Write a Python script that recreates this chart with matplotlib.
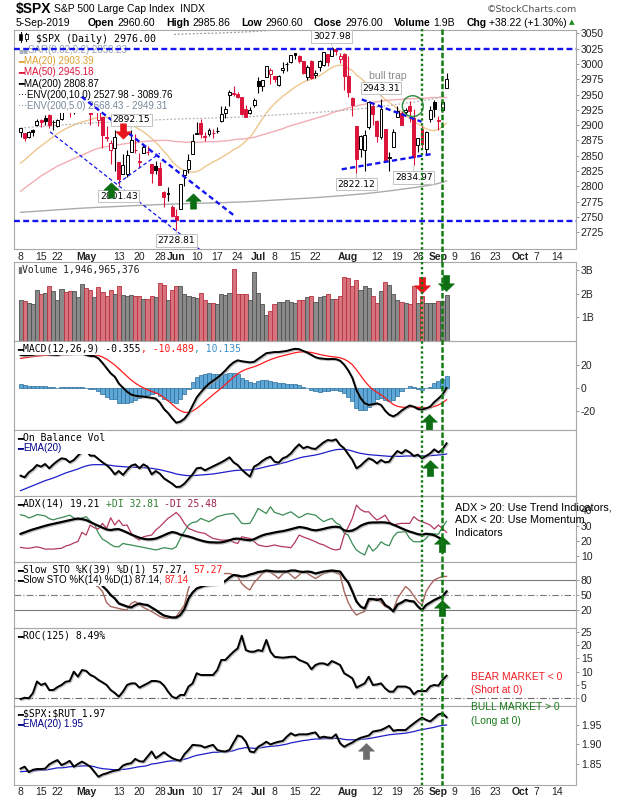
import numpy as np
import pandas as pd
import matplotlib
matplotlib.use("Agg")
import matplotlib.pyplot as plt
from matplotlib.path import Path
from matplotlib.patches import Ellipse, Rectangle
from matplotlib.lines import Line2D
from matplotlib.offsetbox import TextArea, HPacker, VPacker, AnchoredOffsetbox, DrawingArea
import matplotlib.patheffects as pe

plt.rcParams['font.family'] = ['DejaVu Sans']

# ---------------- DATA (daily, 8-Apr-2019 .. 5-Sep-2019) ----------------
holidays = ['2019-04-19', '2019-05-27', '2019-07-04', '2019-09-02']
first_day, calendar_end = '2019-04-08', '2019-10-18'
prev_close = 2892.74

open_ = [2888.46, 2886.58, 2881.37, 2891.92, 2900.86,
         2908.32, 2912.26, 2916.04, 2904.81,
         2898.78, 2909.99, 2934.00, 2928.99, 2925.81,
         2940.58, 2937.14, 2952.33, 2922.16, 2929.21,
         2908.89, 2913.03, 2879.61, 2859.84, 2863.10,
         2840.19, 2820.12, 2820.38, 2855.80, 2858.60,
         2841.94, 2854.02, 2856.06, 2836.70, 2832.41,
         2830.03, 2790.25, 2786.94, 2766.15,
         2751.53, 2762.64, 2818.09, 2828.51, 2852.87,
         2885.83, 2903.27, 2882.73, 2886.24, 2886.82,
         2889.75, 2906.71, 2920.55, 2949.60, 2952.71,
         2951.42, 2945.78, 2926.07, 2919.66, 2932.94,
         2971.41, 2964.66, 2978.08, 2984.25,
         2979.77, 2965.52, 2989.30, 2999.62, 3003.36,
         3017.80, 3012.13, 3005.10, 2978.87, 3004.26,
         2981.93, 2994.74, 2998.77, 3016.26, 3013.25,
         3024.47, 3007.66, 3016.22, 2980.32, 2943.90,
         2898.07, 2861.18, 2858.65, 2896.21, 2930.51,
         2907.07, 2880.72, 2894.15, 2846.20, 2864.74,
         2913.48, 2919.01, 2922.04, 2930.94, 2911.07,
         2866.70, 2893.14, 2861.28, 2910.37, 2937.09,
         2909.01, 2924.67, 2960.60]
high = [2895.95, 2886.88, 2889.71, 2893.42, 2910.54,
        2909.60, 2916.06, 2918.00, 2908.40,
        2909.51, 2936.31, 2936.83, 2933.10, 2939.88,
        2949.52, 2948.22, 2954.13, 2931.68, 2947.85,
        2937.32, 2913.03, 2897.96, 2875.97, 2891.31,
        2840.19, 2852.54, 2858.68, 2892.15, 2885.48,
        2853.86, 2868.88, 2865.47, 2836.70, 2841.36,
        2840.51, 2792.03, 2799.00, 2768.98,
        2763.07, 2804.49, 2827.28, 2852.10, 2884.97,
        2904.77, 2910.61, 2888.57, 2895.24, 2894.45,
        2897.27, 2930.79, 2931.74, 2958.06, 2964.15,
        2954.92, 2946.52, 2932.59, 2929.30, 2943.98,
        2977.93, 2973.21, 2995.84, 2994.03,
        2980.76, 2981.90, 3002.98, 3002.33, 3013.92,
        3017.80, 3015.02, 3005.26, 2998.28, 3006.02,
        2990.71, 3005.90, 3019.59, 3016.31, 3027.98,
        3025.61, 3017.19, 3017.40, 3013.59, 2945.50,
        2898.07, 2884.40, 2892.17, 2938.72, 2935.75,
        2907.58, 2943.31, 2894.15, 2856.67, 2893.63,
        2931.00, 2923.63, 2928.73, 2939.08, 2927.01,
        2879.27, 2898.79, 2890.03, 2930.50, 2940.43,
        2914.39, 2938.84, 2985.86]
low = [2880.78, 2873.33, 2879.13, 2881.99, 2898.37,
       2896.48, 2900.71, 2895.45, 2891.90,
       2896.35, 2908.53, 2926.05, 2912.84, 2917.56,
       2939.35, 2924.11, 2923.36, 2900.50, 2929.21,
       2898.21, 2862.60, 2873.28, 2836.40, 2825.39,
       2801.43, 2820.12, 2815.08, 2855.80, 2854.23,
       2831.29, 2854.02, 2851.11, 2805.49, 2820.19,
       2801.58, 2766.06, 2776.74, 2750.52,
       2728.81, 2762.64, 2800.92, 2822.45, 2852.87,
       2885.51, 2878.53, 2874.68, 2881.99, 2879.62,
       2887.30, 2905.44, 2911.43, 2931.50, 2946.87,
       2944.05, 2916.01, 2912.99, 2918.57, 2929.05,
       2952.22, 2955.92, 2977.96, 2967.97,
       2970.09, 2963.44, 2984.62, 2988.80, 3001.87,
       3008.77, 3001.15, 2984.25, 2973.09, 2975.86,
       2976.65, 2988.56, 2996.82, 2997.24, 3012.59,
       3014.30, 3000.94, 2958.08, 2945.23, 2914.11,
       2822.12, 2847.42, 2825.71, 2894.47, 2900.15,
       2873.14, 2877.05, 2839.64, 2825.51, 2864.74,
       2913.48, 2899.60, 2917.91, 2904.51, 2834.97,
       2856.00, 2860.59, 2853.05, 2905.67, 2913.32,
       2891.85, 2921.86, 2960.60]
close_ = [2895.77, 2878.20, 2888.21, 2888.32, 2907.41,
          2905.58, 2907.06, 2900.45, 2905.03,
          2907.97, 2933.68, 2927.25, 2926.17, 2939.88,
          2943.03, 2945.83, 2923.73, 2917.52, 2945.64,
          2932.47, 2884.05, 2879.42, 2870.72, 2881.40,
          2811.87, 2834.41, 2850.96, 2876.32, 2859.53,
          2840.23, 2864.36, 2856.27, 2822.24, 2826.06,
          2802.39, 2783.02, 2788.86, 2752.06,
          2744.45, 2803.27, 2826.15, 2843.49, 2873.34,
          2886.73, 2885.72, 2879.84, 2891.64, 2886.98,
          2889.67, 2917.75, 2926.46, 2954.18, 2950.46,
          2945.35, 2917.38, 2913.78, 2924.92, 2941.76,
          2964.33, 2973.01, 2995.82, 2990.41,
          2975.95, 2979.63, 2993.07, 2999.91, 3013.77,
          3014.30, 3004.04, 2984.42, 2995.11, 2976.61,
          2985.03, 3005.47, 3019.56, 3003.67, 3025.86,
          3020.97, 3013.18, 2980.38, 2953.56, 2932.05,
          2844.74, 2881.77, 2883.98, 2938.09, 2918.65,
          2882.70, 2926.32, 2840.60, 2847.60, 2888.68,
          2923.65, 2900.51, 2924.43, 2922.95, 2847.11,
          2878.38, 2869.16, 2887.94, 2924.58, 2926.46,
          2906.27, 2937.78, 2976.00]

ma20 = [2838, 2843, 2849, 2855, 2861, 2866, 2871, 2876, 2881, 2886,
        2890, 2894, 2897, 2900, 2903, 2905, 2907, 2909, 2911, 2912,
        2913, 2913, 2912, 2911, 2908, 2905, 2903, 2900, 2897, 2893,
        2889, 2884, 2878, 2872, 2865, 2857, 2850, 2841, 2834, 2829,
        2826, 2824, 2823, 2824, 2827, 2832, 2836, 2840, 2843, 2847,
        2851, 2855, 2860, 2863, 2868, 2874, 2880, 2889, 2900, 2910,
        2920, 2928, 2935, 2941, 2947, 2952, 2957, 2962, 2966, 2970,
        2973, 2975, 2977, 2981, 2985, 2990, 2994, 2997, 2998, 2997,
        2993, 2989, 2982, 2977, 2971, 2966, 2960, 2954, 2948, 2942,
        2937, 2932, 2927, 2921, 2916, 2911, 2906, 2902, 2898, 2894,
        2892, 2891, 2893, 2897, 2903.39]
ma50 = [2792, 2797, 2802, 2807, 2812, 2817, 2821, 2825, 2829, 2833,
        2836, 2839, 2842, 2845, 2848, 2851, 2854, 2857, 2860, 2862,
        2864, 2865, 2866, 2867, 2868, 2869, 2870, 2871, 2871, 2872,
        2873, 2874, 2874, 2875, 2875, 2875, 2875, 2874, 2873, 2873,
        2872, 2872, 2872, 2872, 2872, 2873, 2873, 2873, 2873, 2874,
        2874, 2875, 2876, 2877, 2877, 2878, 2879, 2880, 2882, 2884,
        2886, 2888, 2890, 2892, 2894, 2897, 2899, 2901, 2903, 2905,
        2907, 2909, 2911, 2913, 2915, 2917, 2920, 2922, 2924, 2926,
        2928, 2930, 2931, 2933, 2934, 2936, 2937, 2938, 2939, 2940,
        2941, 2941, 2942, 2942, 2943, 2943, 2943, 2944, 2944, 2944,
        2945, 2945, 2945, 2945, 2945.18]
ma200 = [2757.5, 2758.0, 2758.4, 2758.9, 2759.3, 2759.8, 2760.2, 2760.7, 2761.1, 2761.6,
         2762.1, 2762.5, 2763.0, 2763.4, 2763.9, 2764.3, 2764.7, 2765.0, 2765.4, 2765.7,
         2766.0, 2766.3, 2766.6, 2766.9, 2767.2, 2767.5, 2767.9, 2768.2, 2768.5, 2768.8,
         2769.1, 2769.4, 2769.7, 2770.0, 2770.3, 2770.5, 2770.8, 2771.0, 2771.3, 2771.5,
         2771.7, 2771.9, 2772.1, 2772.3, 2772.4, 2772.6, 2772.8, 2772.9, 2773.1, 2773.3,
         2773.5, 2773.7, 2774.0, 2774.2, 2774.5, 2774.8, 2775.1, 2775.5, 2775.9, 2776.3,
         2776.7, 2777.1, 2777.5, 2777.9, 2778.3, 2778.7, 2779.1, 2779.5, 2779.9, 2780.3,
         2780.7, 2781.1, 2781.5, 2782.0, 2782.5, 2783.0, 2783.5, 2784.0, 2784.5, 2785.0,
         2785.6, 2786.2, 2786.8, 2787.4, 2788.0, 2788.7, 2789.4, 2790.1, 2790.9, 2791.7,
         2792.5, 2793.4, 2794.3, 2795.2, 2796.1, 2797.0, 2797.9, 2798.9, 2799.9, 2800.9,
         2802.0, 2803.2, 2804.7, 2806.5, 2808.87]
env5_pct, env10_pct = 5.0, 10.0

volume_b = [1.74, 1.67, 1.60, 1.55, 2.17, 2.00, 2.03, 2.34, 2.09, 1.74,
            2.20, 2.06, 2.09, 2.09, 1.86, 2.39, 2.24, 2.17, 1.86, 2.29,
            2.05, 1.89, 2.13, 2.00, 2.31, 1.94, 1.91, 1.94, 1.89, 1.91,
            1.77, 1.77, 1.89, 1.86, 2.46, 2.37, 1.74, 2.14, 2.34, 2.31,
            2.00, 1.91, 1.86, 1.80, 2.03, 1.74, 1.60, 1.60, 1.57, 2.00,
            1.94, 2.03, 3.03, 2.00, 2.00, 2.00, 1.74, 2.91, 2.03, 1.57,
            1.10, 1.27, 1.57, 1.63, 1.66, 1.74, 1.66, 1.60, 1.74, 1.74,
            1.86, 1.89, 1.66, 1.86, 1.91, 1.96, 1.77, 1.77, 1.89, 2.71,
            2.67, 2.31, 2.57, 2.14, 2.34, 2.24, 1.91, 1.60, 2.11, 2.51,
            2.37, 2.00, 1.74, 1.63, 1.60, 1.54, 2.34, 1.60, 1.91, 1.60,
            1.60, 1.60, 1.70, 1.70, 1.95]

macd = [28.5, 28.2, 28.3, 28.6, 29.2, 29.4, 29.5, 29.0, 28.7, 28.5,
        29.5, 29.6, 29.4, 29.8, 29.9, 29.8, 28.5, 27.6, 27.5, 25.5,
        21.5, 17.0, 12.5, 9.5, 3.5, 0.0, -3.5, -6.0, -7.0, -7.5,
        -7.8, -8.2, -8.8, -9.5, -13.0, -18.5, -22.0, -26.5, -30.5, -29.5,
        -27.0, -22.5, -15.5, -8.5, -4.0, 0.0, 3.5, 6.0, 8.5, 11.5,
        15.0, 19.0, 22.0, 23.8, 23.0, 22.5, 22.0, 22.5, 25.0, 27.5,
        30.0, 30.5, 31.0, 31.0, 31.5, 32.0, 33.0, 33.8, 33.5, 32.0,
        30.5, 28.5, 26.5, 25.5, 25.2, 24.8, 25.0, 24.8, 23.5, 20.0,
        15.0, 8.5, -2.0, -9.0, -13.5, -15.0, -14.5, -13.6, -15.0, -20.0,
        -23.5, -25.0, -23.0, -20.0, -17.5, -15.5, -16.5, -18.5, -19.0, -18.0,
        -16.5, -12.5, -9.5, -6.0, -0.355]
macd_signal = [25.5, 26.0, 26.5, 27.0, 27.4, 27.8, 28.1, 28.3, 28.4, 28.4,
               28.6, 28.8, 28.9, 29.1, 29.3, 29.4, 29.2, 28.9, 28.6, 28.0,
               26.7, 24.8, 22.3, 19.7, 16.5, 13.2, 9.9, 6.7, 4.0, 1.7,
               -0.2, -1.8, -3.2, -4.5, -6.2, -8.7, -11.4, -14.4, -17.6, -20.0,
               -21.4, -21.6, -20.4, -18.0, -15.2, -12.2, -9.1, -6.1, -3.2, -0.3,
               2.8, 6.0, 9.2, 12.1, 14.3, 15.9, 17.1, 18.2, 19.6, 21.2,
               22.9, 24.4, 25.7, 26.8, 27.7, 28.6, 29.5, 30.4, 31.0, 31.2,
               31.1, 30.6, 29.8, 28.9, 28.2, 27.5, 27.0, 26.6, 26.0, 24.8,
               22.8, 20.0, 15.6, 10.7, 5.8, 1.7, -1.6, -4.0, -6.2, -8.9,
               -11.9, -14.5, -16.2, -16.9, -17.1, -16.7, -16.7, -17.1, -17.4, -17.6,
               -17.3, -16.4, -15.0, -13.2, -10.489]
macd_hist = [m - s for m, s in zip(macd, macd_signal)]

obv = [6.1, 5.6, 7.1, 8.0, 9.3, 8.8, 9.6, 8.3, 9.5, 10.5,
       11.3, 11.1, 10.1, 10.8, 12.1, 13.3, 13.7, 12.1, 12.1, 11.1,
       10.1, 9.3, 8.1, 6.5, 7.5, 6.3, 7.8, 9.1, 9.5, 8.3,
       9.5, 8.8, 6.5, 7.5, 6.7, 5.3, 4.5, 3.7, 2.7, 2.8,
       3.7, 5.1, 6.5, 8.3, 8.5, 7.7, 8.3, 8.9, 9.5, 10.1,
       10.8, 11.6, 10.1, 9.3, 7.9, 6.8, 5.8, 8.8, 9.5, 10.5,
       11.3, 11.8, 10.3, 10.0, 11.3, 11.8, 12.8, 14.3, 15.5, 14.3,
       14.8, 14.3, 14.1, 15.1, 16.1, 16.8, 16.6, 17.0, 15.3, 14.3,
       12.5, 10.8, 8.3, 9.1, 10.3, 11.3, 10.8, 9.8, 10.8, 10.1,
       10.3, 12.1, 13.5, 12.8, 13.8, 13.1, 12.0, 12.4, 11.3, 12.0,
       12.8, 14.0, 13.1, 14.0, 15.8]
obv_ema = [1.6, 2.1, 2.6, 3.1, 3.6, 4.1, 4.6, 5.0, 5.4, 5.9,
           6.4, 6.9, 7.3, 7.7, 8.1, 8.6, 9.0, 9.3, 9.4, 9.4,
           9.4, 9.3, 9.2, 9.0, 8.9, 8.8, 8.7, 8.7, 8.6, 8.6,
           8.5, 8.4, 8.3, 8.1, 7.9, 7.6, 7.3, 7.0, 6.6, 6.4,
           6.2, 6.1, 6.1, 6.2, 6.3, 6.4, 6.5, 6.6, 6.8, 7.0,
           7.2, 7.4, 7.6, 7.7, 7.8, 7.8, 7.8, 8.0, 8.2, 8.5,
           8.8, 9.1, 9.3, 9.6, 9.9, 10.2, 10.6, 11.0, 11.4, 11.7,
           11.9, 12.1, 12.3, 12.6, 12.9, 13.3, 13.6, 13.9, 14.0, 14.0,
           13.8, 13.5, 13.1, 12.8, 12.6, 12.4, 12.3, 12.2, 12.1, 12.0,
           11.9, 11.9, 11.9, 11.9, 12.0, 12.0, 12.0, 12.0, 12.0, 12.0,
           12.1, 12.2, 12.3, 12.4, 12.6]

adx = [24.5, 25.5, 26.5, 27.4, 28.2, 29.0, 29.8, 30.5, 31.1, 31.7,
       32.3, 32.9, 33.5, 34.1, 34.6, 34.2, 33.6, 32.3, 31.0, 29.8,
       28.6, 27.4, 27.0, 27.5, 27.6, 26.6, 25.4, 24.1, 23.0, 22.0,
       21.3, 20.9, 21.0, 21.4, 22.4, 23.6, 24.8, 25.7, 25.2, 24.0,
       23.4, 22.8, 22.0, 21.0, 20.2, 19.5, 19.0, 18.9, 18.8, 18.9,
       19.5, 20.3, 21.2, 21.4, 21.0, 20.6, 20.3, 21.0, 22.3, 23.5,
       24.3, 24.8, 25.4, 25.9, 26.3, 26.9, 27.6, 28.3, 29.0, 28.7,
       28.1, 27.2, 26.8, 27.2, 27.8, 28.5, 29.0, 29.2, 28.8, 26.8,
       26.3, 26.7, 28.0, 29.8, 31.0, 31.8, 32.0, 32.0, 32.1, 32.0,
       31.6, 30.5, 29.4, 28.2, 27.0, 26.0, 25.2, 24.3, 23.9, 24.6,
       24.2, 23.6, 22.2, 20.7, 19.21]
plus_di = [37.0, 36.5, 35.0, 35.8, 37.2, 36.8, 36.3, 34.5, 33.7, 34.6,
           35.2, 36.0, 36.8, 35.0, 33.7, 35.0, 35.8, 33.0, 31.0, 25.0,
           21.0, 19.5, 17.5, 16.1, 16.0, 18.2, 17.6, 17.2, 16.6, 16.1,
           15.6, 15.0, 14.5, 13.9, 14.6, 15.4, 15.0, 14.5, 16.0, 21.5,
           26.0, 30.3, 32.0, 32.5, 34.7, 33.5, 32.5, 34.0, 35.8, 36.5,
           37.3, 37.6, 37.9, 35.0, 31.4, 31.2, 31.4, 36.0, 41.2, 39.5,
           37.9, 42.3, 38.6, 37.8, 36.8, 38.0, 39.0, 37.0, 35.1, 36.5,
           37.9, 37.3, 36.8, 34.5, 32.5, 33.8, 34.7, 31.8, 30.3, 25.0,
           23.7, 18.0, 13.9, 12.0, 10.6, 17.2, 13.2, 15.5, 19.3, 17.5,
           16.7, 22.6, 25.5, 25.7, 25.9, 21.5, 19.3, 19.3, 19.3, 21.5,
           24.8, 24.5, 24.2, 29.0, 32.81]
minus_di = [15.6, 15.2, 15.0, 15.5, 16.0, 15.3, 14.5, 14.5, 14.5, 14.8,
            15.0, 16.5, 17.2, 18.5, 19.5, 25.5, 23.7, 30.3, 28.5, 27.7,
            31.4, 28.1, 35.1, 30.3, 33.6, 30.0, 30.3, 25.0, 22.0, 20.4,
            22.6, 23.2, 23.7, 27.0, 29.2, 32.0, 34.7, 36.5, 38.6, 35.8,
            31.4, 28.1, 27.0, 25.9, 25.3, 24.8, 23.0, 21.5, 21.0, 20.4,
            20.4, 20.4, 19.0, 18.2, 22.6, 22.0, 21.5, 19.5, 17.2, 16.6,
            16.1, 16.6, 17.2, 16.5, 16.1, 15.8, 15.4, 19.0, 23.7, 22.5,
            21.5, 20.5, 19.3, 18.0, 17.2, 15.8, 14.5, 13.9, 14.5, 23.7,
            29.0, 34.7, 43.4, 40.5, 39.0, 39.0, 36.0, 33.6, 35.0, 36.8,
            32.5, 30.3, 31.0, 31.4, 31.4, 31.4, 35.8, 33.6, 32.5, 31.5,
            30.3, 27.7, 30.3, 28.0, 25.48]

sto_k39 = [92, 90, 91, 91, 94, 94, 95, 93, 94, 94,
           97, 96, 95, 97, 98, 98, 93, 88, 90, 85,
           68, 60, 50, 43, 33, 30, 27, 25, 30, 33,
           31, 30, 25, 20, 14, 9, 7, 5, 5, 10,
           22, 43, 55, 63, 66, 69, 70, 71, 72, 73,
           78, 85, 90, 89, 87, 88, 91, 93, 96, 97,
           99, 98, 97, 97, 97, 97, 99, 99, 97, 96,
           97, 96, 93, 95, 97, 98, 99, 98, 97, 85,
           75, 57, 37, 27, 23, 42, 42, 40, 42, 30,
           25, 17, 31, 35, 40, 38, 37, 27, 20, 30,
           35, 40, 44, 47, 57.27]
sto_k14 = [95, 88, 92, 92, 97, 95, 96, 90, 93, 94,
           98, 95, 93, 97, 98, 97, 78, 70, 71, 66,
           57, 35, 27, 25, 23, 21, 20, 33, 37, 31,
           25, 21, 17, 12, 7, 4, 3, 5, 7, 18,
           30, 63, 82, 87, 88, 89, 90, 91, 91, 92,
           93, 93, 90, 87, 73, 65, 60, 75, 83, 93,
           97, 95, 90, 83, 92, 97, 90, 83, 90, 97,
           93, 88, 83, 88, 93, 95, 97, 94, 91, 57,
           35, 20, 10, 14, 17, 37, 40, 43, 35, 27,
           23, 20, 43, 55, 67, 60, 48, 37, 30, 57,
           70, 80, 84, 87, 87.14]

roc125 = [-0.3, 0.2, 0.0, 1.9, 6.3, 5.0, 5.6, 3.1, 3.1, 4.2,
          5.0, 6.2, 6.5, 10.0, 8.1, 10.6, 10.3, 8.8, 8.1, 6.9,
          6.0, 5.0, 3.1, 2.0, 0.6, 2.5, 5.0, 5.6, 5.6, 4.0,
          4.8, 5.6, 6.5, 6.5, 6.2, 4.8, 2.5, 0.6, 0.0, 1.25,
          1.25, 4.4, 5.6, 9.4, 8.75, 8.75, 8.75, 8.75, 10.6, 14.4,
          14.4, 16.0, 17.5, 18.75, 23.5, 18.1, 17.5, 17.5, 18.1, 17.75,
          21.9, 17.5, 15.6, 15.4, 15.25, 15.4, 15.6, 15.6, 14.4, 13.8,
          13.1, 10.9, 12.5, 13.1, 13.1, 12.5, 14.0, 13.3, 12.5, 9.4,
          8.5, 7.5, 4.0, 4.8, 5.6, 8.1, 5.0, 5.2, 5.6, 3.75,
          2.5, 2.5, 4.4, 4.4, 4.4, 3.75, 1.5, 2.75, 2.75, 2.75,
          4.5, 5.0, 4.75, 6.9, 8.49]

spx_rut = [1.838, 1.843, 1.829, 1.835, 1.837, 1.837, 1.838, 1.849, 1.855, 1.860,
           1.847, 1.852, 1.858, 1.843, 1.850, 1.856, 1.850, 1.843, 1.830, 1.817,
           1.823, 1.826, 1.830, 1.833, 1.835, 1.846, 1.850, 1.852, 1.863, 1.857,
           1.856, 1.869, 1.882, 1.865, 1.872, 1.880, 1.872, 1.865, 1.861, 1.858,
           1.875, 1.886, 1.899, 1.898, 1.897, 1.892, 1.896, 1.899, 1.886, 1.883,
           1.882, 1.886, 1.905, 1.923, 1.920, 1.907, 1.882, 1.880, 1.894, 1.900,
           1.907, 1.900, 1.904, 1.907, 1.909, 1.920, 1.929, 1.923, 1.926, 1.926,
           1.926, 1.929, 1.931, 1.917, 1.920, 1.918, 1.917, 1.926, 1.903, 1.894,
           1.900, 1.905, 1.912, 1.917, 1.920, 1.923, 1.933, 1.935, 1.937, 1.942,
           1.948, 1.935, 1.937, 1.937, 1.937, 1.946, 1.954, 1.962, 1.969, 1.963,
           1.959, 1.968, 1.977, 1.980, 1.970]
spx_rut_ema = [1.830, 1.831, 1.831, 1.832, 1.833, 1.834, 1.834, 1.836, 1.838, 1.840,
               1.840, 1.841, 1.843, 1.843, 1.844, 1.845, 1.845, 1.845, 1.843, 1.840,
               1.838, 1.837, 1.836, 1.835, 1.835, 1.836, 1.837, 1.839, 1.841, 1.843,
               1.844, 1.846, 1.850, 1.851, 1.853, 1.855, 1.857, 1.858, 1.858, 1.860,
               1.862, 1.865, 1.869, 1.872, 1.874, 1.876, 1.878, 1.880, 1.880, 1.881,
               1.881, 1.882, 1.884, 1.888, 1.890, 1.892, 1.891, 1.890, 1.891, 1.892,
               1.894, 1.895, 1.896, 1.897, 1.899, 1.901, 1.904, 1.906, 1.908, 1.910,
               1.911, 1.913, 1.914, 1.914, 1.915, 1.915, 1.915, 1.916, 1.915, 1.913,
               1.912, 1.912, 1.912, 1.913, 1.914, 1.915, 1.917, 1.919, 1.921, 1.923,
               1.925, 1.926, 1.927, 1.928, 1.929, 1.931, 1.933, 1.936, 1.938, 1.940,
               1.942, 1.944, 1.947, 1.949, 1.950]

tick_dates = ['2019-04-08', '2019-04-15', '2019-04-22', '2019-05-01', '2019-05-13', '2019-05-20',
              '2019-05-28', '2019-06-03', '2019-06-10', '2019-06-17', '2019-06-24', '2019-07-01',
              '2019-07-08', '2019-07-15', '2019-07-22', '2019-08-01', '2019-08-12', '2019-08-19',
              '2019-08-26', '2019-09-03', '2019-09-09', '2019-09-16', '2019-09-23', '2019-10-01',
              '2019-10-07', '2019-10-14']
tick_labels = ['8', '15', '22', 'May', '13', '20', '28', 'Jun', '10', '17', '24', 'Jul',
               '8', '15', '22', 'Aug', '12', '19', '26', 'Sep', '9', '16', '23', 'Oct', '7', '14']
month_labels = {'May', 'Jun', 'Jul', 'Aug', 'Sep', 'Oct'}

# ---------------- FIGURE ----------------
W, H = 620, 800
fig = plt.figure(figsize=(W / 100, H / 100), dpi=100)
fig.patch.set_facecolor('white')
L, R = 14, 576
XL, XR = -1.6, 135.6
LIB = ['Liberation Sans', 'DejaVu Sans']
DJV = ['DejaVu Sans']
MONO = ['DejaVu Sans Mono', 'DejaVu Sans']
RED = '#dc143c'
GREEN = '#0d6e14'
BLUE = '#1414f0'

cal = pd.bdate_range(first_day, calendar_end, freq='C', holidays=holidays)
tick_pos = [cal.get_loc(pd.Timestamp(d)) for d in tick_dates]


def add_ax(top, bottom):
    ax = fig.add_axes([L / W, 1 - bottom / H, (R - L) / W, (bottom - top) / H])
    ax.set_facecolor('none')
    ax.set_xlim(XL, XR)
    ax.set_xticks([])
    for s in ax.spines.values():
        s.set_color('#a8a8a8')
        s.set_linewidth(0.8)
    return ax


def yaxis(ax, lo, hi, ticks, labels=None):
    ax.set_ylim(lo, hi)
    ax.yaxis.tick_right()
    ax.set_yticks(ticks)
    ax.set_yticklabels(labels if labels is not None else [str(t) for t in ticks],
                       fontfamily=LIB, fontsize=7.5, color='#222222')
    ax.tick_params(axis='y', length=2.5, width=0.7, color='#999999', pad=1)


def xaxis_labels(ax, pad):
    ax.set_xticks(tick_pos)
    ax.set_xticklabels(tick_labels, fontfamily=LIB, fontsize=7.5, color='#222222')
    ax.tick_params(axis='x', length=0, pad=pad)
    for t in ax.get_xticklabels():
        if t.get_text() in month_labels:
            t.set_fontweight('bold')


def ta(s, color='black', fam=MONO, size=7.0, weight='normal'):
    return TextArea(s, textprops=dict(color=color, family=fam, size=size, weight=weight, parse_math=False))


def mk(color='black'):
    return ta('━', color, DJV, 7.0)


def put_legend(ax, rows, dx=2.0, dy=1.5, sep=0.0):
    packed = [HPacker(children=r, pad=0, sep=0, align='baseline') for r in rows]
    box = VPacker(children=packed, pad=0, sep=sep, align='left')
    bb = ax.get_position()
    anc = AnchoredOffsetbox(loc='upper left', child=box, pad=0.1, borderpad=0.0, frameon=True,
                            bbox_to_anchor=(bb.x0 + dx / W, bb.y1 - dy / H),
                            bbox_transform=fig.transFigure)
    anc.patch.set_facecolor('white')
    anc.patch.set_edgecolor('none')
    anc.set_zorder(5)
    ax.add_artist(anc)


UP = Path([(-0.5, 0.02), (0, 0.5), (0.5, 0.02), (0.2, 0.02), (0.2, -0.5), (-0.2, -0.5), (-0.2, 0.02), (-0.5, 0.02)],
          [Path.MOVETO] + [Path.LINETO] * 6 + [Path.CLOSEPOLY])
DOWN = Path(UP.vertices * np.array([1, -1]), UP.codes)


def arrow(ax, n, v, up=True, color=GREEN, ms=11):
    ax.plot([n], [v], marker=UP if up else DOWN, ms=ms, color=color, mec=color, mew=0.4,
            ls='none', zorder=9, clip_on=False)


shadow = [pe.SimpleLineShadow(offset=(0.8, -0.8), shadow_color='#9a9a9a', alpha=0.6), pe.Normal()]

o = np.array(open_); h = np.array(high); lo_ = np.array(low); c = np.array(close_)
x = np.arange(len(c))
prev = np.concatenate([[prev_close], c[:-1]])
down = c < prev
filled = c < o

# ---------------- MAIN PRICE PANEL ----------------
ax = add_ax(30, 249)
yaxis(ax, 2697.6, 3055.4, list(range(2725, 3051, 25)))
xaxis_labels(ax, pad=2.5)

m200 = np.array(ma200)
ax.plot(np.arange(len(ma20)), ma20, color='#efc68e', lw=1.0, zorder=1)
ax.plot(np.arange(len(ma50)), ma50, color='#f2aeb4', lw=1.0, zorder=1)
ax.plot(np.arange(len(m200)), m200, color='#ababab', lw=1.0, zorder=1)
ax.plot(np.arange(len(m200)), m200 * (1 + env5_pct / 100), color='#b4b4b4', lw=0.9, ls=(0, (1.5, 1.5)), zorder=1)
ax.plot(np.arange(len(m200)), m200 * (1 + env10_pct / 100), color='#9a9a9a', lw=0.9, ls=(0, (1.5, 1.5)), zorder=1)

cols = np.where(down, RED, 'black')
faces = [cc if f else 'white' for cc, f in zip(cols, filled)]
ax.vlines(x, lo_, h, colors=cols, lw=0.8, zorder=3)
bots = np.minimum(o, c)
hts = np.maximum(np.abs(c - o), 0.8)
ax.bar(x, hts, bottom=bots, width=0.72, color=faces, edgecolor=cols, lw=0.7, zorder=4)

# horizontal support/resistance and trendlines
ax.axhline(3025, color=BLUE, lw=1.7, ls=(0, (2.5, 1.4)), zorder=6)
ax.axhline(2743, color=BLUE, lw=1.7, ls=(0, (2.5, 1.4)), zorder=6)
thick = dict(color=BLUE, lw=1.7, ls=(0, (2.2, 1.4)), zorder=6, solid_capstyle='butt')
thin = dict(color=BLUE, lw=0.9, ls=(0, (3.0, 2.0)), zorder=6)
ax.plot([14.9, 52.0], [2946.4, 2753.0], **thick)
ax.plot([7.2, 46.0], [2889.0, 2685.0], **thin)
ax.plot([23.8, 34.0], [2805.0, 2854.0], **thin)
ax.plot([83.3, 97.9], [2942.0, 2905.5], **thick)
ax.plot([78.4, 100.4], [2827.8, 2852.8], **thick)
ax.add_patch(Ellipse((95.75, 2931), width=5.1, height=34.0, fill=False, edgecolor='#2e8b3a', lw=1.0, zorder=7))

value_labels = [(76, 3027.98, 7.5), (88, 2943.31, 7.5), (27, 2892.15, 7.2), (24, 2801.43, -7.8),
                (38, 2728.81, -7.6), (82, 2822.12, -8.2), (96, 2834.97, -9.0)]
for n, p, dy in value_labels:
    ax.annotate(f'{p:.2f}', xy=(n, p), xytext=(0, dy), textcoords='offset points', ha='center', va='center',
                fontsize=6.6, family=DJV, color='black', zorder=8, annotation_clip=False,
                bbox=dict(boxstyle='square,pad=0.18', fc='white', ec='#c2c2c2', lw=0.7),
                arrowprops=dict(arrowstyle='-', color='#c2c2c2', lw=0.7, shrinkA=0, shrinkB=1))
ax.text(89.7, 2980, 'bull trap', color='#8a8a8a', fontsize=7.6, family=LIB, ha='center', va='center', zorder=8)

arrow(ax, 25.1, 2891, up=False, color='#e8141e', ms=11)
arrow(ax, 22.2, 2794, up=True, ms=11)
arrow(ax, 42.2, 2776.5, up=True, ms=11)

icon = DrawingArea(9, 7, 0, 0)
icon.add_artist(Line2D([2.0, 2.0], [0, 7], color='black', lw=0.7))
icon.add_artist(Rectangle((0.8, 1.5), 2.4, 4.0, fc='black', ec='black', lw=0.5))
icon.add_artist(Line2D([6.0, 6.0], [0.5, 6.5], color='black', lw=0.7))
icon.add_artist(Rectangle((4.8, 2.0), 2.4, 3.5, fc='white', ec='black', lw=0.6))
put_legend(ax, [
    [icon, ta(' $SPX (Daily) 2976.00', size=7.2)],
    [ta('▪▪', '#a8b0b8', DJV, 5.5), ta('SAR(0.02,0.2) 2850.23', '#98a2ac', LIB)],
    [mk('#dba235'), ta('MA(20) 2903.39', '#d9a030', LIB)],
    [mk(RED), ta('MA(50) 2945.18', RED, LIB)],
    [mk('black'), ta('MA(200) 2808.87', 'black', LIB)],
    [ta('···', 'black', DJV), ta('ENV(200,10.0) 2527.98 - 3089.76', 'black', LIB)],
    [ta('···', '#778899', DJV), ta('ENV(200,5.0) 2668.43 - 2949.31', '#778899', LIB)],
], dx=2.5, dy=0.5, sep=0.9)

# ---------------- VOLUME ----------------
axv = add_ax(262, 341)
yaxis(axv, -0.02, 3.34, [1, 2, 3], ['1B', '2B', '3B'])
vface = np.where(down, '#d6737c', '#8a8a8a')
vedge = np.where(down, '#b7313f', '#505050')
axv.bar(np.arange(len(volume_b)), volume_b, width=1.0, color=vface, edgecolor=vedge, lw=0.6, zorder=2)
arrow(axv, 98.1, 2.36, up=False, color='#e8141e', ms=11.5)
arrow(axv, 103.9, 2.43, up=False, ms=11.5)
put_legend(axv, [[ta('▮', '#707070', DJV, 6.5), ta('Volume 1,946,965,376', '#222222')]])

# ---------------- MACD ----------------
axm = add_ax(341, 430)
yaxis(axm, -36.8, 40.6, [-20, 0, 20])
axm.bar(np.arange(len(macd_hist)), macd_hist, width=1.0, color='#5ea7d6', edgecolor='#2c6e9c', lw=0.5, zorder=1)
axm.plot(np.arange(len(macd_signal)), macd_signal, color='#ff1a1a', lw=0.9, zorder=2)
axm.plot(np.arange(len(macd)), macd, color='black', lw=1.4, zorder=3, path_effects=shadow)
arrow(axm, 99.8, -29.9, up=True, ms=11.5)
put_legend(axm, [[mk(), ta('MACD(12,26,9) -0.355'), ta(', -10.489', '#ff1a1a'), ta(', 10.135', '#3a8fc8')]])

# ---------------- OBV ----------------
axo = add_ax(430, 496)
axo.set_ylim(0, 19.8)
axo.set_yticks([])
axo.plot(np.arange(len(obv_ema)), obv_ema, color='#1e1ec8', lw=0.9, zorder=2)
axo.plot(np.arange(len(obv)), obv, color='black', lw=1.4, zorder=3, path_effects=shadow)
arrow(axo, 100.0, 8.3, up=True, ms=11.5)
put_legend(axo, [[mk(), ta('On Balance Vol')],
                 [mk('#00008b'), ta('EMA(20)', '#00008b', LIB)]])

# ---------------- ADX ----------------
axa = add_ax(496, 562)
yaxis(axa, 6.0, 49.4, [10, 20, 30, 40])
axa.plot(np.arange(len(plus_di)), plus_di, color='#3a8c55', lw=0.9, zorder=2)
axa.plot(np.arange(len(minus_di)), minus_di, color='#b3395c', lw=0.9, zorder=2)
axa.plot(np.arange(len(adx)), adx, color='black', lw=1.6, zorder=3, path_effects=shadow)
arrow(axa, 102.9, 17.8, up=True, ms=11.5)
put_legend(axa, [[mk(), ta('ADX(14) 19.21 '), ta('+DI 32.81 ', '#2e7d32'), ta('-DI 25.48', '#a0224a')]])

# ---------------- SLOW STO ----------------
axs = add_ax(562, 628)
yaxis(axs, -16, 116, [20, 50, 80])
axs.axhline(80, color='#7a7a7a', lw=0.8, zorder=1)
axs.axhline(20, color='#7a7a7a', lw=0.8, zorder=1)
axs.axhline(50, color='#7a7a7a', lw=0.8, ls=(0, (6, 2, 1, 2)), zorder=1)
axs.plot(np.arange(len(sto_k14)), sto_k14, color='#a8675e', lw=1.0, zorder=2)
axs.plot(np.arange(len(sto_k39)), sto_k39, color='black', lw=1.6, zorder=3, path_effects=shadow)
arrow(axs, 102.9, 23.3, up=True, ms=11.5)
put_legend(axs, [[mk(), ta('Slow STO %K(39) %D(1) 57.27, '), ta('57.27', '#ff1a1a')],
                 [mk(), ta('Slow STO %K(14) %D(1) 87.14, ', 'black', LIB), ta('87.14', '#ff1a1a', LIB)]])

# ---------------- ROC ----------------
axr = add_ax(628, 706)
yaxis(axr, -2.9, 26.4, [0, 5, 10, 15, 20, 25])
axr.axhline(0, color='#6a6a6a', lw=0.8, ls=(0, (6, 2, 1, 2)), zorder=1)
axr.plot(np.arange(len(roc125)), roc125, color='black', lw=1.4, zorder=3, path_effects=shadow)
put_legend(axr, [[mk(), ta('ROC(125) 8.49%')]])

# ---------------- $SPX:$RUT ----------------
axq = add_ax(706, 785)
yaxis(axq, 1.796, 1.9987, [1.85, 1.90, 1.95], ['1.85', '1.90', '1.95'])
xaxis_labels(axq, pad=1.5)
axq.plot(np.arange(len(spx_rut_ema)), spx_rut_ema, color='#1e1ec8', lw=0.9, zorder=2)
axq.plot(np.arange(len(spx_rut)), spx_rut, color='black', lw=1.4, zorder=3, path_effects=shadow)
arrow(axq, 84.3, 1.882, up=True, color='#6d6d6d', ms=11.5)
put_legend(axq, [[mk(), ta('$SPX:$RUT 1.97')],
                 [mk('#00008b'), ta('EMA(20) 1.95', '#00008b', LIB)]])


# ---------------- figure-level annotations ----------------
def ftext(xp, yp, s, **kw):
    kw.setdefault('va', 'center')
    kw.setdefault('ha', 'left')
    return fig.text(xp / W, 1 - yp / H, s, parse_math=False, **kw)


def xfig(n):
    return (L + (n - XL) / (XR - XL) * (R - L)) / W


fig.add_artist(Line2D([xfig(98)] * 2, [1 - 29 / H, 1 - 785 / H], color='#127a12', lw=1.7,
                      ls=(0, (1.0, 1.1)), zorder=10))
fig.add_artist(Line2D([xfig(103)] * 2, [1 - 29 / H, 1 - 785 / H], color='#127a12', lw=1.8,
                      ls=(0, (2.2, 0.9)), zorder=10))

for yy, s in [(507, 'ADX > 20: Use Trend Indicators,'), (520, 'ADX < 20: Use Momentum'), (533, 'Indicators')]:
    ftext(455, yy, s, fontsize=7.8, family=LIB, color='black', zorder=12)
for yy, s, col in [(677, 'BEAR MARKET < 0', '#ee1c24'), (690, '(Short at 0)', '#ee1c24'),
                   (707, 'BULL MARKET > 0', '#1a7a1a'), (721, '(Long at 0)', '#1a7a1a')]:
    ftext(471, yy, s, fontsize=7.4, family=LIB, color=col, zorder=12)

# header
ftext(15.5, 9, '$SPX', fontsize=10, weight='bold',
      family=['Liberation Sans Narrow', 'DejaVu Sans Condensed', 'Liberation Sans'])
ftext(54, 9.5, 'S&P 500 Large Cap Index  INDX', fontsize=7.5, family=LIB)
ftext(577, 9, '©StockCharts.com', fontsize=6.8, family=DJV, color='#505050', ha='right')

rend = fig.canvas.get_renderer()
ftext(16, 22.5, '5-Sep-2019', fontsize=7.5, family=LIB)
groups = [('Open', '2960.60'), ('High', '2985.86'), ('Low', '2960.60'), ('Close', '2976.00'),
          ('Volume', '1.9B'), ('Chg', '+38.22 (+1.30%)')]
made = []
total = 0.0
for lab, val in groups:
    t1 = ftext(0, 22.5, lab, fontsize=7.5, family=LIB, weight='bold')
    t2 = ftext(0, 22.5, val, fontsize=7.5, family=LIB)
    w1 = t1.get_window_extent(rend).width
    w2 = t2.get_window_extent(rend).width
    made.append((t1, w1, t2, w2))
    total += w1 + 3 + w2
x0, x1 = 88.0, 567.0
gap = (x1 - x0 - total) / (len(groups) - 1)
cur = x0
for t1, w1, t2, w2 in made:
    t1.set_x(cur / W)
    t2.set_x((cur + w1 + 3) / W)
    cur += w1 + 3 + w2 + gap
ftext(572, 22, '▲', fontsize=5.2, family=DJV, color='#1a8a1a', ha='center')

fig.savefig('out.png', dpi=100, facecolor='white')
